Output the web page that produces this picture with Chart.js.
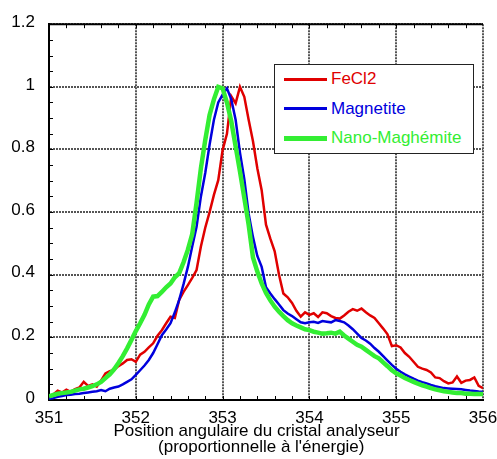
<!DOCTYPE html>
<html>
<head>
<meta charset="utf-8">
<script src="https://cdn.jsdelivr.net/npm/chart.js@4.4.1/dist/chart.umd.min.js"></script>
<style>
  html, body { margin: 0; padding: 0; background: #fff; }
  #wrap { position: relative; width: 497px; height: 459px; }
  #legend { position: absolute; left: 274px; top: 64px; width: 198px; height: 88px;
    border: 1px solid #222; background: #fff; font-family: "Liberation Sans", Arial, sans-serif; font-size: 17px; }
  .row { position: absolute; left: 0; height: 20px; }
  .swatch { position: absolute; left: 9px; width: 43px; }
  .lbl { position: absolute; left: 56px; white-space: nowrap; line-height: 20px; top: 0; }
</style>
</head>
<body>
<div id="wrap">
  <canvas id="c" width="497" height="459"></canvas>
  <div id="legend"></div>
</div>
<script>
// ---- data ----
const xValues = [
  351.00,351.05,351.10,351.15,351.20,351.25,351.30,351.35,351.40,351.45,
  351.50,351.55,351.60,351.65,351.70,351.75,351.80,351.85,351.90,351.95,
  352.00,352.05,352.10,352.15,352.20,352.25,352.30,352.35,352.40,352.45,
  352.50,352.55,352.60,352.65,352.70,352.75,352.80,352.85,352.90,352.95,
  353.00,353.05,353.10,353.15,353.20,353.25,353.30,353.35,353.40,353.45,
  353.50,353.55,353.60,353.65,353.70,353.75,353.80,353.85,353.90,353.95,
  354.00,354.05,354.10,354.15,354.20,354.25,354.30,354.35,354.40,354.45,
  354.50,354.55,354.60,354.65,354.70,354.75,354.80,354.85,354.90,354.95,
  355.00,355.05,355.10,355.15,355.20,355.25,355.30,355.35,355.40,355.45,
  355.50,355.55,355.60,355.65,355.70,355.75,355.80,355.85,355.90,355.95,
  356.00
];
const fecl2 = [
  0.010,0.018,0.030,0.024,0.033,0.026,0.035,0.040,0.058,0.045,
  0.050,0.043,0.062,0.085,0.092,0.096,0.108,0.117,0.128,0.130,
  0.122,0.145,0.154,0.168,0.181,0.205,0.223,0.245,0.266,0.262,
  0.320,0.345,0.367,0.390,0.415,0.490,0.550,0.600,0.655,0.702,
  0.798,0.850,0.970,0.947,1.000,0.968,0.895,0.826,0.740,0.670,
  0.560,0.515,0.475,0.400,0.340,0.328,0.310,0.285,0.266,0.280,
  0.272,0.277,0.265,0.280,0.277,0.268,0.262,0.260,0.270,0.282,
  0.290,0.285,0.292,0.280,0.270,0.262,0.245,0.228,0.210,0.172,
  0.175,0.168,0.150,0.138,0.122,0.106,0.100,0.096,0.088,0.072,
  0.070,0.060,0.053,0.056,0.075,0.055,0.062,0.064,0.072,0.045,
  0.038
];
const magnetite = [
  0.004,0.006,0.010,0.013,0.016,0.017,0.019,0.020,0.022,0.024,
  0.026,0.028,0.032,0.028,0.036,0.040,0.043,0.050,0.058,0.066,
  0.080,0.095,0.110,0.128,0.150,0.178,0.207,0.225,0.245,0.280,
  0.320,0.370,0.425,0.490,0.553,0.650,0.725,0.815,0.895,0.950,
  0.975,0.995,0.960,0.895,0.790,0.705,0.595,0.520,0.460,0.425,
  0.360,0.340,0.322,0.305,0.287,0.276,0.268,0.258,0.248,0.245,
  0.248,0.250,0.246,0.252,0.250,0.248,0.255,0.252,0.248,0.238,
  0.226,0.212,0.198,0.190,0.180,0.166,0.154,0.140,0.126,0.112,
  0.100,0.090,0.082,0.075,0.068,0.062,0.057,0.053,0.048,0.044,
  0.041,0.038,0.037,0.036,0.035,0.034,0.032,0.030,0.029,0.027,
  0.026
];
const nanoMaghemite = [
  0.012,0.016,0.020,0.022,0.024,0.026,0.030,0.034,0.036,0.040,
  0.044,0.050,0.058,0.070,0.082,0.098,0.118,0.140,0.165,0.192,
  0.220,0.245,0.272,0.305,0.330,0.332,0.345,0.360,0.372,0.392,
  0.405,0.440,0.480,0.530,0.630,0.740,0.830,0.910,0.960,1.000,
  0.995,0.950,0.890,0.810,0.730,0.645,0.560,0.455,0.410,0.372,
  0.342,0.318,0.298,0.282,0.268,0.255,0.245,0.238,0.232,0.226,
  0.223,0.218,0.215,0.212,0.213,0.215,0.212,0.218,0.206,0.196,
  0.186,0.176,0.170,0.160,0.150,0.140,0.133,0.120,0.108,0.095,
  0.085,0.078,0.070,0.064,0.058,0.052,0.047,0.043,0.038,0.034,
  0.031,0.028,0.026,0.024,0.022,0.022,0.020,0.020,0.019,0.019,
  0.019
];
const seriesNames = ["FeCl2", "Magnetite", "Nano-Maghémite"];
const xTicks = [351, 352, 353, 354, 355, 356];
const yTicks = [0, 0.2, 0.4, 0.6, 0.8, 1, 1.2];
const xTickLabels = ["351", "352", "353", "354", "355", "356"];
const yTickLabels = ["0", "0.2", "0.4", "0.6", "0.8", "1", "1.2"];
const xTitle = ["Position angulaire du cristal analyseur    ", "(proportionnelle à l'énergie)  "];

// ---- styles ----
const colors = ["#e00000", "#0000dd", "#33ee33"];
const widths = [2.5, 2.5, 4.5];
const FONT = "'Liberation Sans', Arial, sans-serif";

const toPts = ys => xValues.map((x, i) => ({ x: x, y: ys[i] }));
const seriesData = [fecl2, magnetite, nanoMaghemite];

const minorTicks = {
  id: 'minorTicks',
  beforeDatasetsDraw(chart) {
    const { ctx, chartArea: a, scales: { x, y } } = chart;
    ctx.save();
    ctx.strokeStyle = '#000';
    ctx.lineWidth = 1;
    ctx.beginPath();
    for (let k = 1; k < 25; k++) {
      const v = 351 + k * 0.2;
      const px = Math.round(x.getPixelForValue(v)) + 0.5;
      ctx.moveTo(px, a.bottom); ctx.lineTo(px, a.bottom - 4);
      ctx.moveTo(px, a.top); ctx.lineTo(px, a.top + 4);
    }
    for (let k = 1; k < 24; k++) {
      const v = k * 0.05;
      const py = Math.round(y.getPixelForValue(v)) + 0.5;
      ctx.moveTo(a.left, py); ctx.lineTo(a.left + 4, py);
    }
    ctx.stroke();
    // top frame
    ctx.lineWidth = 2;
    ctx.beginPath();
    ctx.moveTo(a.left - 1, a.top); ctx.lineTo(a.right, a.top);
    ctx.stroke();
    ctx.restore();
  }
};

const chart = new Chart(document.getElementById('c'), {
  type: 'line',
  data: {
    datasets: seriesNames.map((n, i) => ({
      label: n,
      data: toPts(seriesData[i]),
      borderColor: colors[i],
      backgroundColor: colors[i],
      borderWidth: widths[i],
      pointRadius: 0,
      tension: 0,
      fill: false,
      order: 3 - i
    }))
  },
  options: {
    responsive: false,
    animation: false,
    layout: { padding: { top: 24, right: 14, left: 0, bottom: 0 } },
    plugins: { legend: { display: false }, tooltip: { enabled: false } },
    scales: {
      x: {
        type: 'linear', min: 351, max: 356,
        afterBuildTicks: s => { s.ticks = xTicks.map(v => ({ value: v })); },
        afterFit: s => { s.height = 59; s.paddingRight = 0; s.paddingLeft = 0; },
        ticks: {
          padding: 8, color: '#000', font: { family: FONT, size: 17 },
          callback: v => xTickLabels[xTicks.indexOf(v)]
        },
        grid: { color: '#555', lineWidth: 2, drawTicks: false },
        border: { color: '#000', width: 2, dash: [2, 1] },
        title: {
          display: true, text: xTitle, color: '#000',
          font: { family: FONT, size: 17, lineHeight: 0.92 },
          padding: { top: 0, bottom: 4 }
        }
      },
      y: {
        type: 'linear', min: 0, max: 1.2,
        afterBuildTicks: s => { s.ticks = yTicks.map(v => ({ value: v })); },
        afterFit: s => { s.width = 49; },
        ticks: {
          padding: 14, labelOffset: -2, color: '#000', font: { family: FONT, size: 17 },
          callback: v => yTickLabels[yTicks.indexOf(v)]
        },
        grid: { color: '#555', lineWidth: 2, drawTicks: false },
        border: { color: '#000', width: 2, dash: [2, 1] }
      }
    }
  },
  plugins: [minorTicks]
});

// HTML legend built from the chart's datasets
const legendEl = document.getElementById('legend');
chart.data.datasets.forEach((ds, i) => {
  const row = document.createElement('div');
  row.className = 'row';
  row.style.top = (4 + i * 29.5) + 'px';
  row.style.width = '198px';
  const sw = document.createElement('div');
  sw.className = 'swatch';
  sw.style.height = Math.round(ds.borderWidth) + 'px';
  sw.style.top = (10 - Math.round(ds.borderWidth) / 2) + 'px';
  sw.style.background = ds.borderColor;
  const lb = document.createElement('span');
  lb.className = 'lbl';
  lb.style.color = ds.borderColor;
  lb.textContent = ds.label;
  row.appendChild(sw); row.appendChild(lb);
  legendEl.appendChild(row);
});
</script>
</body>
</html>
